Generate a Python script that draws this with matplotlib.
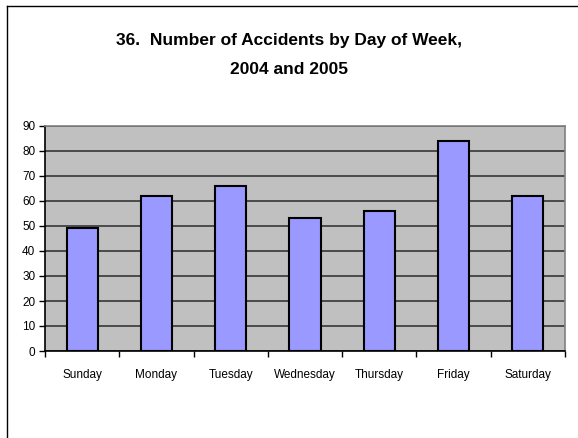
import matplotlib
matplotlib.use("Agg")
import matplotlib.pyplot as plt
from matplotlib.lines import Line2D
import numpy as np

days = ["Sunday", "Monday", "Tuesday", "Wednesday", "Thursday", "Friday", "Saturday"]
accidents = [49, 62, 66, 53, 56, 84, 62]
y_ticks = [0, 10, 20, 30, 40, 50, 60, 70, 80, 90]
title_lines = ["36.  Number of Accidents by Day of Week,", "2004 and 2005"]

plt.rcParams["font.family"] = ["Liberation Sans", "DejaVu Sans"]

W, H = 578, 438
fig = plt.figure(figsize=(W / 100, H / 100), dpi=100)
fig.patch.set_facecolor("white")

# outer chart frame (left and top edges)
fig.add_artist(Line2D([7 / W, 7 / W], [0, 1 - 6 / H], color="black", lw=1.0,
                      transform=fig.transFigure))
fig.add_artist(Line2D([7 / W, 1], [1 - 6 / H, 1 - 6 / H], color="black", lw=1.0,
                      transform=fig.transFigure))

left, right, top, bottom = 45, 565, 126, 351
ax = fig.add_axes([left / W, 1 - bottom / H, (right - left) / W, (bottom - top) / H])
ax.set_facecolor("#C0C0C0")

x = np.arange(len(days))
ax.bar(x, accidents, width=0.42, color="#9999FF", edgecolor="black", linewidth=1.5, zorder=3)

ax.set_xlim(-0.5, len(days) - 0.5)
ax.set_ylim(0, 90)
ax.set_yticks(y_ticks)
ax.set_yticklabels([str(v) for v in y_ticks], fontsize=8.5)
ax.yaxis.grid(True, color="#2a2a2a", linewidth=1.1, zorder=1)
ax.set_axisbelow(True)

# category labels centred, tick marks on the category boundaries
ax.set_xticks(x)
ax.set_xticklabels(days, fontsize=8.5)
ax.tick_params(axis="x", length=0, pad=13)
ax.set_xticks(np.arange(-0.5, len(days) + 0.5, 1), minor=True)
ax.tick_params(axis="x", which="minor", length=4, width=1, color="black", direction="out")
ax.tick_params(axis="y", length=4, width=1, color="black", direction="out", pad=3)

ax.spines["left"].set_color("black")
ax.spines["bottom"].set_color("black")
ax.spines["top"].set_color("#808080")
ax.spines["right"].set_color("#808080")
for s in ax.spines.values():
    s.set_linewidth(1.2)

for line, ypix in zip(title_lines, [40, 70]):
    fig.text(0.5, 1 - ypix / H, line, ha="center", va="center", fontsize=12.5,
             fontweight="bold")

fig.savefig("out.png", dpi=100)
